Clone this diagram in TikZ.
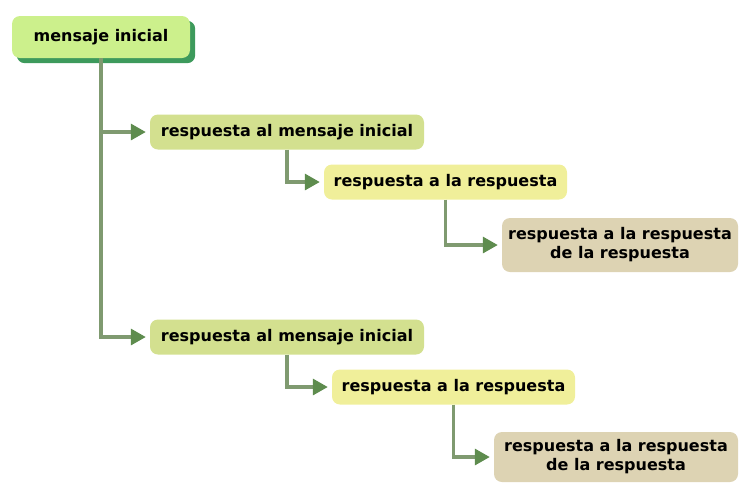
\documentclass[tikz,border=0pt]{standalone}
\usepackage{fontspec}
\setmainfont{DejaVu Sans}
\usepackage{tikz}
\usetikzlibrary{arrows.meta,backgrounds}
\definecolor{rootfill}{HTML}{CCF08C}
\definecolor{rootshadow}{HTML}{3D9A5C}
\definecolor{replyfill}{HTML}{D3E08F}
\definecolor{subfill}{HTML}{F0EF9A}
\definecolor{deepfill}{HTML}{DDD3B3}
\definecolor{linkcolor}{HTML}{7F9A70}
\definecolor{tipcolor}{HTML}{5E8C4E}
\newcommand{\boxheight}{35pt}
\newcommand{\corner}{8pt}

\begin{document}
\begin{tikzpicture}[x=1pt,y=-1pt,
  msg/.style={rounded corners=\corner, inner sep=0pt, align=center,
    font=\fontsize{16}{19}\selectfont\bfseries, minimum height=\boxheight},
  link/.style={draw=linkcolor, line width=3.2pt,
    -{Triangle[length=15pt,width=16pt,color=tipcolor]}, shorten >=4pt}]
\useasboundingbox (0,0) rectangle (740,483);
\node[msg, fill=rootfill, minimum width=178pt, minimum height=42pt] (0) at (101, 37) {mensaje inicial};
\node[msg, fill=replyfill, minimum width=274pt] (1) at (287, 132) {respuesta al mensaje inicial};
\node[msg, fill=subfill, minimum width=243pt] (2) at (445.5, 182) {respuesta a la respuesta};
\node[msg, fill=deepfill, minimum width=236pt, minimum height=54pt] (3) at (620, 245) {respuesta a la respuesta\\de la respuesta};
\node[msg, fill=replyfill, minimum width=274pt] (4) at (287, 337) {respuesta al mensaje inicial};
\node[msg, fill=subfill, minimum width=243pt] (5) at (453.5, 387) {respuesta a la respuesta};
\node[msg, fill=deepfill, minimum width=244pt, minimum height=50pt] (6) at (616, 457) {respuesta a la respuesta\\de la respuesta};
%shadow
\begin{scope}[on background layer]
\fill[rootshadow, rounded corners=\corner] ([shift={(5,5)}]0.south west) rectangle ([shift={(5,5)}]0.north east);
\end{scope}
%links
\draw[link] (0.south) |- (1.west);
\draw[link] (0.south) |- (4.west);
\draw[link] (1.south) |- (2.west);
\draw[link] (2.south) |- (3.west);
\draw[link] (4.south) |- (5.west);
\draw[link] (5.south) |- (6.west);
\end{tikzpicture}
\end{document}
